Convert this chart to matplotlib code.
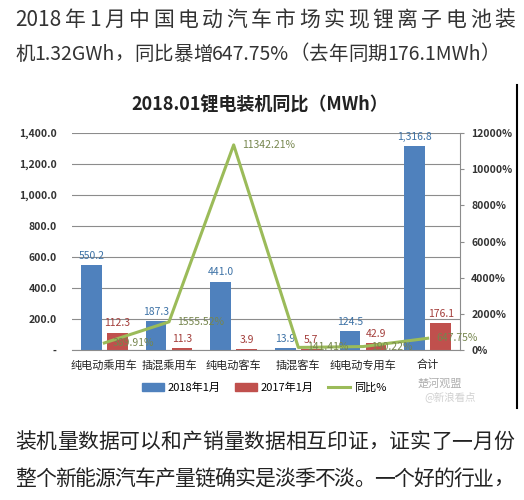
import re
import matplotlib
matplotlib.use("Agg")
import matplotlib.pyplot as plt
from matplotlib.lines import Line2D
from matplotlib.patches import Patch
import numpy as np

plt.rcParams['font.family'] = ['Noto Sans CJK SC', 'DejaVu Sans']

# data
categories = ['纯电动乘用车', '插混乘用车', '纯电动客车', '插混客车', '纯电动专用车', '合计']
mwh_2018 = [550.2, 187.3, 441.0, 13.9, 124.5, 1316.8]
mwh_2017 = [112.3, 11.3, 3.9, 5.7, 42.9, 176.1]
yoy_pct = [389.91, 1555.52, 11342.21, 141.41, 190.22, 647.75]
left_ticks = [0, 200, 400, 600, 800, 1000, 1200, 1400]
right_ticks = [0, 2000, 4000, 6000, 8000, 10000, 12000]

header = ['2018年1月中国电动汽车市场实现锂离子电池装',
          '机1.32GWh，同比暴增647.75%（去年同期176.1MWh）']
footer = ['装机量数据可以和产销量数据相互印证，证实了一月份',
          '整个新能源汽车产量链确实是淡季不淡。一个好的行业，',
          '最终都要靠下游的消费数据印证，新能源汽车的这些数']

W, H = 524, 500
BLUE, RED, GREEN = '#4f81bd', '#c0504d', '#9bbb59'


def fx(x):
    return x / W


def fy(y):
    return 1 - y / H


fig = plt.figure(figsize=(W / 100, H / 100), dpi=100)
fig.patch.set_facecolor('white')
renderer = fig.canvas.get_renderer()


def justify(line, x0, x1, y, size, color):
    # latin runs stay whole, cjk chars get spread so the line fills x0..x1
    tokens = re.findall(r'[\x20-\x7e]+|.', line)
    texts = [fig.text(0, fy(y), tk, fontsize=size, color=color, va='center', ha='left')
             for tk in tokens]
    widths = [t.get_window_extent(renderer).width for t in texts]
    gap = (x1 - x0 - sum(widths)) / (len(texts) - 1)
    pos = x0
    for t, w in zip(texts, widths):
        t.set_x(fx(pos))
        pos += w + gap


# article text
justify(header[0], 15, 515, 20, 15, '#333333')
justify(header[1], 15, 500, 54, 14, '#333333')
justify(footer[0], 15, 514, 442, 15, '#222222')
justify(footer[1], 15, 514, 479, 15, '#222222')
justify(footer[2], 15, 514, 513, 15, '#222222')

# chart title
fig.text(fx(260), fy(105), '2018.01锂电装机同比（MWh）', fontsize=13, fontweight='bold',
         color='#222222', ha='center', va='center')

ax = fig.add_axes([fx(72), fy(350), fx(460 - 72), (350 - 133) / H])
x = np.arange(len(categories))
bw = 0.32
ax.bar(x - 0.2, mwh_2018, bw, color=BLUE, zorder=2)
ax.bar(x + 0.2, mwh_2017, bw, color=RED, zorder=2)
ax.set_xlim(-0.5, len(categories) - 0.5)
ax.set_ylim(0, 1400)
ax.set_yticks(left_ticks)
ax.set_yticklabels(['-' if v == 0 else f'{v:,.1f}' for v in left_ticks],
                   fontsize=7.5, color='#333333', fontweight='bold')
ax.tick_params(axis='y', length=0, pad=11)
ax.set_xticks(x)
ax.set_xticklabels(categories, fontsize=8, color='#222222')
ax.tick_params(axis='x', length=0, pad=7)
ax.grid(axis='y', color='#8c8c8c', lw=0.8, zorder=0)
for s in ['top', 'left', 'right']:
    ax.spines[s].set_visible(False)
ax.spines['bottom'].set_color('#8c8c8c')

for xi, v in zip(x - 0.2, mwh_2018):
    ax.annotate(f'{v:,.1f}', (xi, v), xytext=(0, 3), textcoords='offset points',
                ha='center', va='bottom', fontsize=7.5, color='#3d72a6')
for xi, v in zip(x + 0.2, mwh_2017):
    ax.annotate(f'{v:,.1f}', (xi, v), xytext=(0, 3), textcoords='offset points',
                ha='center', va='bottom', fontsize=7.5, color='#a33d3a')

ax2 = ax.twinx()
ax2.set_ylim(0, 12000)
ax2.plot(x, yoy_pct, color=GREEN, lw=2.2, zorder=3)
ax2.set_yticks(right_ticks)
ax2.set_yticklabels([f'{v}%' for v in right_ticks], fontsize=7.5, color='#333333',
                    fontweight='bold')
ax2.tick_params(axis='y', length=3, pad=5, color='#8c8c8c')
for s in ['top', 'left', 'bottom']:
    ax2.spines[s].set_visible(False)
ax2.spines['right'].set_color('#8c8c8c')
for xi, v in zip(x, yoy_pct):
    ax2.annotate(f'{v:.2f}%', (xi, v), xytext=(6, 0), textcoords='offset points',
                 ha='left', va='center', fontsize=7.5, color='#76864e')

handles = [Patch(color=BLUE), Patch(color=RED), Line2D([], [], color=GREEN, lw=2.2)]
fig.legend(handles, ['2018年1月', '2017年1月', '同比%'], loc='center',
           bbox_to_anchor=(fx(264), fy(388)), ncol=3, frameon=False, fontsize=8,
           handlelength=2.0, handletextpad=0.3, columnspacing=1.3)

# watermark
fig.text(fx(440), fy(383), '楚河观盟', fontsize=8, color='#b0b0b0', ha='center', va='center')
fig.text(fx(450), fy(397), '@新浪看点', fontsize=7.5, color='#d0d0d0', ha='center', va='center')

# right edge of the embedded chart image
fig.add_artist(Line2D([fx(517), fx(517)], [fy(85), fy(408)], color='black', lw=1.5))

fig.savefig('out.png', dpi=100)
